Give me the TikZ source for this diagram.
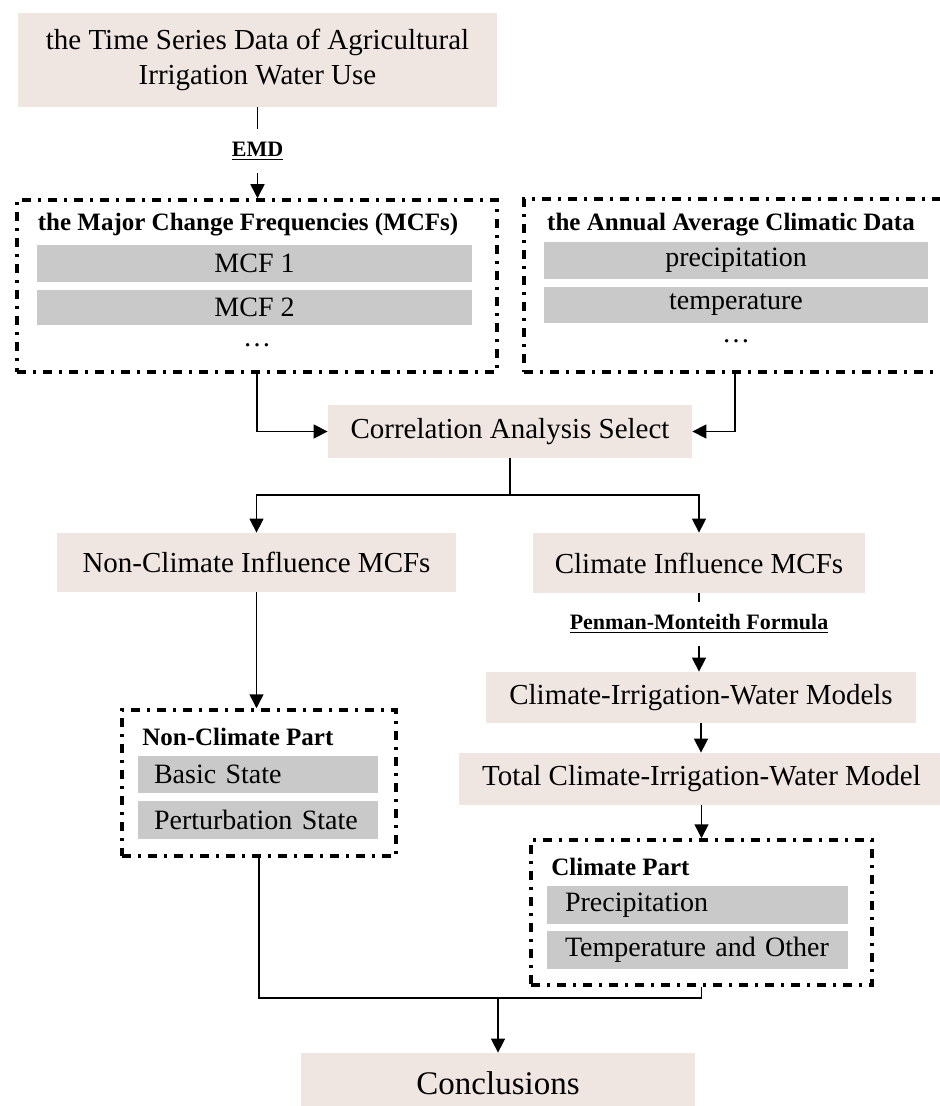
\documentclass[tikz,border=0pt]{standalone}
\usepackage{fontspec}
\setmainfont{Liberation Serif}
\usetikzlibrary{arrows.meta}

\definecolor{boxpink}{RGB}{239,229,225}
\definecolor{bargray}{RGB}{201,201,201}

\tikzset{
	mainbox/.style={fill=boxpink, inner sep=0pt, align=center, font=\fontsize{14.5}{17.5}\selectfont},
	partbox/.style={draw, line width=1.75pt, dash pattern=on 4.5pt off 3.5pt on 1.5pt off 3.5pt, inner sep=0pt},
	bar/.style={fill=bargray, inner sep=0pt, font=\fontsize{14}{16}\selectfont},
	leftbar/.style={bar, align=left, inner xsep=#1},
	head/.style={inner sep=0pt, font=\bfseries\fontsize{12.5}{15}\selectfont},
	tag/.style={fill=white, inner sep=0pt, minimum height=22pt, font=\bfseries\fontsize{11}{13}\selectfont},
	link/.style={line width=0.75pt, -{Triangle[length=7pt,width=7pt]}},
	plainlink/.style={line width=0.75pt}
}

\begin{document}
\begin{tikzpicture}[x=0.5pt,y=-0.5pt]
			\clip (0,0) rectangle (940,1106);

			% main boxes
			\node[mainbox, minimum width=239.5pt, minimum height=47pt] (ts) at (257.5,60)
				{the Time Series Data of Agricultural\\Irrigation Water Use};
			\node[mainbox, minimum width=182pt, minimum height=26.5pt] (cas) at (510,431.5) {Correlation Analysis Select};
			\node[mainbox, minimum width=199.5pt, minimum height=29.5pt] (ncim) at (256.5,562.5) {Non-Climate Influence MCFs};
			\node[mainbox, minimum width=166pt, minimum height=30pt] (cim) at (699,563) {Climate Influence MCFs};
			\node[mainbox, minimum width=215pt, minimum height=25.5pt] (ciwm) at (701,697.5) {Climate-Irrigation-Water Models};
			\node[mainbox, minimum width=242.5pt, minimum height=26pt] (tciwm) at (701.5,779) {Total Climate-Irrigation-Water Model};
			\node[mainbox, minimum width=197pt, minimum height=30pt, font=\fontsize{16.5}{19}\selectfont] (conc) at (498,1083) {Conclusions};

			% dash-dot groups
			\node[partbox, minimum width=240pt, minimum height=86pt] (mcfs) at (257,286) {};
			\node[head] (mcfshead) at (248,225) {the Major Change Frequencies (MCFs)};
			\node[bar, minimum width=217.5pt, minimum height=18.5pt] (mcf1) at (254.5,263.5) {MCF 1};
			\node[bar, minimum width=217.5pt, minimum height=17.5pt] (mcf2) at (254.5,307.5) {MCF 2};
			\node[font=\fontsize{14}{16}\selectfont] (mcfdots) at (257,345) {\ldots};

			\node[partbox, minimum width=217pt, minimum height=86.5pt] (clim) at (741,285.5) {};
			\node[head] (climhead) at (731,225) {the Annual Average Climatic Data};
			\node[bar, minimum width=192pt, minimum height=18.5pt] (prec) at (736,260.5) {precipitation};
			\node[bar, minimum width=192pt, minimum height=18pt] (temp) at (736,305) {temperature};
			\node[font=\fontsize{14}{16}\selectfont] (climdots) at (736,341) {\ldots};

			\node[partbox, minimum width=137pt, minimum height=73pt] (ncp) at (259,783) {};
			\node[head, anchor=west] (ncphead) at (142,737) {Non-Climate Part};
			\node[leftbar=8pt, text width=104pt, minimum height=18.5pt] (bs) at (258,774.5) {Basic State};
			\node[leftbar=8pt, text width=104pt, minimum height=19pt] (ps) at (258,820) {Perturbation State};

			\node[partbox, minimum width=170.5pt, minimum height=72.5pt] (cp) at (701.5,912.5) {};
			\node[head, anchor=west] (cphead) at (551,867) {Climate Part};
			\node[leftbar=9pt, text width=132.5pt, minimum height=19pt] (pc) at (697.5,905) {Precipitation};
			\node[leftbar=9pt, text width=132.5pt, minimum height=19pt] (to) at (697.5,950) {Temperature and Other};

			% connectors
			\coordinate (split) at (510,495);
			\coordinate (join) at (498,998);
			\coordinate (climout) at (735,372);

			\draw[link] (ts) -- node[tag, pos=0.48] {\underline{EMD}} (ts.south |- mcfs.north);
			\draw[link] (mcfs.south) |- (cas.west);
			\draw[link] (climout) |- (cas.east);
			\draw[plainlink] (cas.south) -- (split);
			\draw[link] (split) -| (ncim.north);
			\draw[link] (split) -| (cim.north);
			\draw[link] (ncim.south) -- (ncim.south |- ncp.north);
			\draw[link] (cim.south) -- node[tag, pos=0.39] {\underline{Penman-Monteith Formula}} (cim.south |- ciwm.north);
			\draw[link] (ciwm.south) -- (ciwm.south |- tciwm.north);
			\draw[link] (tciwm.south) -- (tciwm.south |- cp.north);
			\draw[plainlink] (ncp.south) |- (join) -| (cp.south);
			\draw[link] (join) -- (conc.north);
		\end{tikzpicture}
\end{document}
